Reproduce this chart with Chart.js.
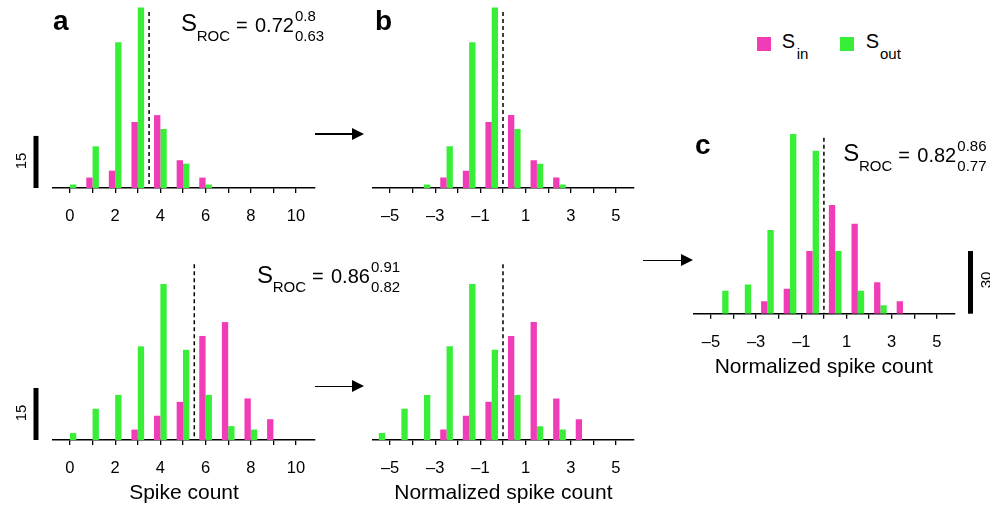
<!DOCTYPE html>
<html>
<head>
<meta charset="utf-8">
<script src="https://cdn.jsdelivr.net/npm/chart.js@4.4.1/dist/chart.umd.min.js"></script>
<style>
    body { margin: 0; background: #fff; }
    #fig { position: relative; width: 990px; height: 507px; overflow: hidden; font-family: "Liberation Sans", Arial, Helvetica, sans-serif; color: #000; }
    #fig canvas { position: absolute; }
    .t { position: absolute; white-space: nowrap; }
    .rot { position: absolute; white-space: nowrap; transform: translate(-50%, -50%) rotate(-90deg); }
    .shaft { position: absolute; height: 1.5px; background: #000; }
    .head { position: absolute; width: 0; height: 0; border-top: 6px solid transparent; border-bottom: 6px solid transparent; border-left: 12px solid #000; }
    .swatch { position: absolute; width: 14px; height: 14px; }
</style>
</head>
<body>
<div id="fig">
    <canvas id="aTop" width="330" height="230" style="left:0;top:0"></canvas>
    <canvas id="bTop" width="320" height="230" style="left:330px;top:0"></canvas>
    <canvas id="aBottom" width="330" height="267" style="left:0;top:240px"></canvas>
    <canvas id="bBottom" width="320" height="267" style="left:330px;top:240px"></canvas>
    <canvas id="pooled" width="330" height="281" style="left:660px;top:100px"></canvas>
</div>
<script>
// bin centres
const spikeBins = [0, 1, 2, 3, 4, 5, 6, 7, 8, 9, 10];
const normBinsTop = [-3.5, -2.5, -1.5, -0.5, 0.5, 1.5, 2.5, 3.5, 4.5, 5.5, 6.5];
const normBinsBottom = [-5.5, -4.5, -3.5, -2.5, -1.5, -0.5, 0.5, 1.5, 2.5, 3.5, 4.5];
const pooledBins = [-4.5, -3.5, -2.5, -1.5, -0.5, 0.5, 1.5, 2.5, 3.5, 4.5];

// trial counts per bin (S_in / S_out)
const topIn = [0, 3, 5, 19, 21, 8, 3, 0, 0, 0, 0];
const topOut = [1, 12, 42, 52, 17, 7, 1, 0, 0, 0, 0];
const bottomIn = [0, 0, 0, 3, 7, 11, 30, 34, 12, 6, 0];
const bottomOut = [2, 9, 13, 27, 45, 26, 13, 4, 3, 0, 0];
const pooledIn = [0, 0, 6, 12, 30, 52, 43, 15, 6, 0];
const pooledOut = [11, 14, 40, 86, 78, 30, 11, 4, 0, 0];

// axis ticks
const spikeTicks = [0, 1, 2, 3, 4, 5, 6, 7, 8, 9, 10];
const spikeTickLabels = [0, 2, 4, 6, 8, 10];
const normTicks = [-5, -4, -3, -2, -1, 0, 1, 2, 3, 4, 5];
const normTickLabels = [-5, -3, -1, 1, 3, 5];

// ROC values: estimate, upper, lower
const rocTop = ['0.72', '0.8', '0.63'];
const rocBottom = ['0.86', '0.91', '0.82'];
const rocPooled = ['0.82', '0.86', '0.77'];

const PINK = '#F03CB6';
const GREEN = '#36EF36';

Chart.defaults.font.family = '"Liberation Sans", Arial, Helvetica, sans-serif';
Chart.defaults.color = '#000';

// dashed criterion line + vertical count scale bar
const marks = {
    id: 'marks',
    afterDatasetsDraw(chart, args, o) {
        const { ctx, scales: { x, y } } = chart;
        const px = x.getPixelForValue(o.crit);
        ctx.save();
        ctx.strokeStyle = '#000';
        ctx.lineWidth = 1.5;
        ctx.setLineDash([4, 3]);
        ctx.beginPath();
        ctx.moveTo(px, y.getPixelForValue(o.critTop));
        ctx.lineTo(px, y.getPixelForValue(0));
        ctx.stroke();
        ctx.setLineDash([]);
        const y0 = y.getPixelForValue(0);
        const y1 = y.getPixelForValue(o.bar);
        ctx.fillStyle = '#000';
        ctx.fillRect(o.barX - 2.5, y1, 5, y0 - y1);
        ctx.restore();
    }
};

function fmt(v) {
    return v < 0 ? '\u2013' + Math.abs(v) : String(v);
}

function histogram(p) {
    return new Chart(document.getElementById(p.id), {
        type: 'bar',
        data: {
            datasets: [
                { label: 'S_in', data: p.bins.map((b, i) => ({ x: b, y: p.sIn[i] })), backgroundColor: PINK },
                { label: 'S_out', data: p.bins.map((b, i) => ({ x: b, y: p.sOut[i] })), backgroundColor: GREEN }
            ]
        },
        options: {
            responsive: false,
            animation: false,
            layout: { padding: { left: p.pad[0], right: p.pad[1], top: p.pad[2], bottom: 0 } },
            datasets: { bar: { categoryPercentage: 0.56, barPercentage: 1, borderWidth: 0 } },
            plugins: {
                legend: { display: false },
                tooltip: { enabled: false },
                marks: { crit: p.crit, critTop: p.critTop, bar: p.bar, barX: p.barX }
            },
            scales: {
                x: {
                    type: 'linear',
                    offset: false,
                    min: p.range[0],
                    max: p.range[1],
                    afterBuildTicks: s => { s.ticks = p.ticks.map(v => ({ value: v })); },
                    afterFit: s => { s.height = p.axisH; },
                    grid: { offset: false, drawOnChartArea: false, drawTicks: true, tickLength: 5, color: '#000', lineWidth: 1.3 },
                    border: { display: true, color: '#000', width: 1.5 },
                    ticks: {
                        autoSkip: false,
                        maxRotation: 0,
                        padding: 14,
                        font: { size: 16.5 },
                        callback: v => p.labels.includes(v) ? fmt(v) : ''
                    },
                    title: { display: !!p.title, text: p.title, font: { size: 21 }, padding: { top: 0, bottom: 1.4 } }
                },
                y: { display: false, min: 0, max: p.yMax }
            }
        },
        plugins: [marks]
    });
}

histogram({ id: 'aTop', bins: spikeBins, sIn: topIn, sOut: topOut, ticks: spikeTicks, labels: spikeTickLabels,
    range: [-0.75, 10.84], yMax: 53, crit: 3.5, critTop: 50.7, bar: 15, barX: 36, pad: [53, 15, 4], axisH: 42, title: '' });
histogram({ id: 'bTop', bins: normBinsTop, sIn: topIn, sOut: topOut, ticks: normTicks, labels: normTickLabels,
    range: [-5.77, 5.8], yMax: 53, crit: 0, critTop: 50.7, bar: 0, barX: -10, pad: [42.7, 16, 4], axisH: 42, title: '' });
histogram({ id: 'aBottom', bins: spikeBins, sIn: bottomIn, sOut: bottomOut, ticks: spikeTicks, labels: spikeTickLabels,
    range: [-0.75, 10.84], yMax: 51.9, crit: 5.5, critTop: 50.7, bar: 15, barX: 36, pad: [53, 15, 20], axisH: 67, title: 'Spike count' });
histogram({ id: 'bBottom', bins: normBinsBottom, sIn: bottomIn, sOut: bottomOut, ticks: normTicks, labels: normTickLabels,
    range: [-5.77, 5.8], yMax: 51.9, crit: 0, critTop: 50.7, bar: 0, barX: -10, pad: [42.7, 16, 20], axisH: 67, title: 'Normalized spike count' });
histogram({ id: 'pooled', bins: pooledBins, sIn: pooledIn, sOut: pooledOut, ticks: normTicks, labels: normTickLabels,
    range: [-5.78, 5.77], yMax: 92.7, crit: 0, critTop: 84.2, bar: 30, barX: 310.5, pad: [33.3, 35.7, 20], axisH: 67.3, title: 'Normalized spike count' });

// annotation text, placed by baseline
const fig = document.getElementById('fig');
function txt(x, base, s, size, bold) {
    const el = document.createElement('span');
    el.className = 't';
    el.textContent = s;
    el.style.left = x + 'px';
    el.style.top = (base - 0.8465 * size) + 'px';
    el.style.fontSize = size + 'px';
    el.style.lineHeight = size + 'px';
    if (bold) el.style.fontWeight = 'bold';
    fig.appendChild(el);
}
function rotated(cx, cy, s, size) {
    const el = document.createElement('span');
    el.className = 'rot';
    el.textContent = s;
    el.style.left = cx + 'px';
    el.style.top = cy + 'px';
    el.style.fontSize = size + 'px';
    el.style.lineHeight = size + 'px';
    fig.appendChild(el);
}
function sroc(x, y, v) {
    txt(x, y, 'S', 24);
    txt(x + 15.7, y + 8.8, 'ROC', 15);
    txt(x + 55, y, '=', 20);
    txt(x + 74, y, v[0], 20);
    txt(x + 114, y - 11.2, v[1], 15);
    txt(x + 114, y + 8.8, v[2], 15);
}
function arrow(x0, x1, y) {
    const s = document.createElement('div');
    s.className = 'shaft';
    s.style.left = x0 + 'px';
    s.style.top = (y - 0.75) + 'px';
    s.style.width = (x1 - x0 - 10) + 'px';
    fig.appendChild(s);
    const h = document.createElement('div');
    h.className = 'head';
    h.style.left = (x1 - 12) + 'px';
    h.style.top = (y - 6) + 'px';
    fig.appendChild(h);
}
function swatch(x, y, c) {
    const el = document.createElement('div');
    el.className = 'swatch';
    el.style.left = x + 'px';
    el.style.top = y + 'px';
    el.style.background = c;
    fig.appendChild(el);
}

txt(53, 31, 'a', 28, true);
txt(375, 31, 'b', 28, true);
txt(695, 155, 'c', 28, true);

sroc(181, 31.7, rocTop);
sroc(257, 283.3, rocBottom);
sroc(843.3, 161.7, rocPooled);

rotated(20, 161, '15', 15);
rotated(20, 413, '15', 15);
rotated(985, 280, '30', 15);

arrow(315, 364, 134);
arrow(315, 364, 386.3);
arrow(643, 693, 260.3);

swatch(757, 37, PINK);
txt(781.7, 48.3, 'S', 20);
txt(796.7, 58.3, 'in', 15);
swatch(840, 37, GREEN);
txt(865.7, 48.3, 'S', 20);
txt(880, 58.3, 'out', 15);
</script>
</body>
</html>
